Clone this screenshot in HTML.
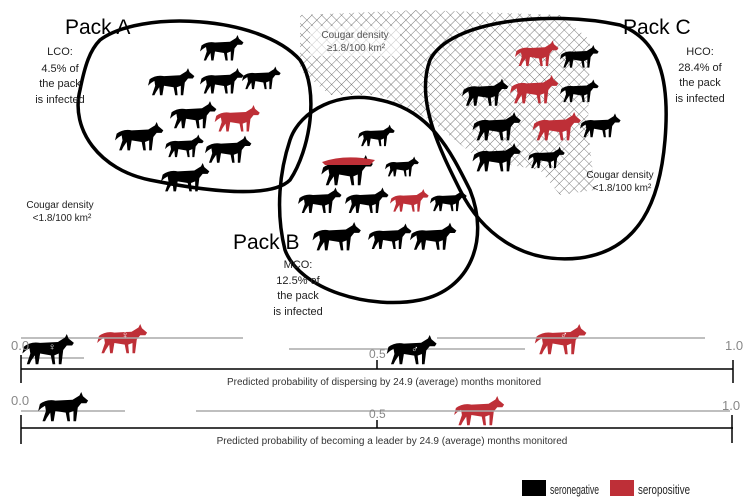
<!DOCTYPE html>
<html><head><meta charset="utf-8"><style>
html,body{margin:0;padding:0;background:#fff}
svg{display:block;font-family:"Liberation Sans",sans-serif}
</style></head><body>
<svg width="754" height="503" viewBox="0 0 754 503" xmlns="http://www.w3.org/2000/svg">
<defs>
<pattern id="h" width="7" height="7" patternUnits="userSpaceOnUse" patternTransform="rotate(45)">
<path d="M0,0H7M0,0V7" stroke="#555" stroke-width="0.8"/>
</pattern>
<symbol id="w" viewBox="0 0 60 36">
<path d="M2,14 Q10,8 20,10 L40,9 L48,4 L50,0 L52,5 L58,10 L56,13 L50,13 L46,18 L44,34 L41,34 L41,22 L36,24 L37,34 L34,34 L32,24 L20,22 L18,34 L15,34 L14,24 L10,30 L8,34 L5,34 L9,22 L8,16 Q4,18 0,22 Z"/>
</symbol>
</defs>
<path d="M300,15 L420,10 L560,15 L590,40 L588,130 L595,190 L560,195 L540,170 L480,160 L430,120 L380,95 L330,95 L300,70 Z" fill="url(#h)"/>
<rect x="310" y="26" width="90" height="30" fill="#fff" opacity="0.6"/>
<g fill="none" stroke="#000" stroke-width="3.5">
<path d="M100,40 C140,10 260,15 300,60 C320,90 310,150 290,180 C270,200 200,190 150,180 C100,170 70,130 80,90 C85,65 90,50 100,40Z"/>
<path d="M290,140 C300,110 340,90 380,100 C430,110 450,150 470,190 C490,240 470,290 420,300 C370,310 300,290 285,250 C275,210 280,170 290,140Z"/>
<path d="M430,60 C450,20 550,10 620,25 C660,40 670,80 665,140 C660,200 640,250 580,258 C520,265 480,230 460,190 C440,150 415,100 430,60Z"/>
</g>
<g fill="#000">
<use href="#w" x="200" y="35" width="45" height="27"/>
<use href="#w" x="148" y="68" width="48" height="29"/>
<use href="#w" x="200" y="68" width="45" height="27"/>
<use href="#w" x="242" y="65" width="40" height="27"/>
<use href="#w" x="170" y="101" width="48" height="29"/>
<use href="#w" x="115" y="122" width="50" height="30"/>
<use href="#w" x="165" y="132" width="40" height="29"/>
<use href="#w" x="205" y="135" width="48" height="30"/>
<use href="#w" x="158" y="163" width="56" height="30"/>
<use href="#w" x="358" y="122" width="38" height="28"/>
<use href="#w" x="318" y="155" width="60" height="32"/>
<use href="#w" x="385" y="152" width="35" height="30"/>
<use href="#w" x="298" y="185" width="45" height="32"/>
<use href="#w" x="345" y="185" width="45" height="32"/>
<use href="#w" x="430" y="185" width="38" height="32"/>
<use href="#w" x="310" y="222" width="55" height="30"/>
<use href="#w" x="368" y="222" width="45" height="30"/>
<use href="#w" x="410" y="222" width="48" height="30"/>
<use href="#w" x="560" y="42" width="40" height="30"/>
<use href="#w" x="462" y="77" width="48" height="32"/>
<use href="#w" x="560" y="75" width="40" height="33"/>
<use href="#w" x="470" y="112" width="55" height="30"/>
<use href="#w" x="580" y="110" width="42" height="32"/>
<use href="#w" x="470" y="143" width="55" height="30"/>
<use href="#w" x="528" y="143" width="38" height="30"/>
</g>
<g fill="#be2f37">
<use href="#w" x="213" y="105" width="50" height="28"/>
<use href="#w" x="390" y="183" width="40" height="36"/>
<use href="#w" x="515" y="38" width="45" height="32"/>
<use href="#w" x="510" y="72" width="50" height="36"/>
<use href="#w" x="530" y="112" width="55" height="30"/>
<use href="#w" x="95" y="324" width="56" height="31"/>
<use href="#w" x="533" y="324" width="57" height="32"/>
<use href="#w" x="452" y="396" width="56" height="31"/>
</g>
<path d="M322,162 Q345,154 375,160 L370,165 L325,165Z" fill="#be2f37"/>
<g stroke="#aaa" stroke-width="1.5">
<line x1="21" y1="338" x2="243" y2="338"/>
<line x1="437" y1="338" x2="705" y2="338"/>
<line x1="289" y1="349" x2="525" y2="349"/>
<line x1="21" y1="358" x2="84" y2="358"/>
<line x1="21" y1="411" x2="125" y2="411"/>
<line x1="196" y1="411" x2="730" y2="411"/>
</g>
<g fill="#000">
<use href="#w" x="21" y="334" width="56" height="32"/>
<use href="#w" x="385" y="335" width="55" height="31"/>
<use href="#w" x="36" y="392" width="56" height="31"/>
</g>
<g fill="#fff" font-size="10" font-weight="bold" text-anchor="middle">
<text x="52" y="350">♀</text><text x="125" y="338">♀</text>
<text x="415" y="352">♂</text><text x="564" y="338">♂</text>
</g>
<g stroke="#000" stroke-width="1.5">
<line x1="21" y1="369" x2="733" y2="369"/>
<line x1="21" y1="355" x2="21" y2="383"/><line x1="733" y1="360" x2="733" y2="383"/>
<line x1="377" y1="360" x2="377" y2="369"/>
<line x1="21" y1="428" x2="733" y2="428"/>
<line x1="21" y1="415" x2="21" y2="444"/><line x1="732" y1="415" x2="732" y2="443"/>
<line x1="377" y1="420" x2="377" y2="428"/>
</g>
<g fill="#888" font-size="13">
<text x="11" y="350">0.0</text><text x="369" y="358" font-size="12">0.5</text><text x="725" y="350">1.0</text>
<text x="11" y="405">0.0</text><text x="369" y="418" font-size="12">0.5</text><text x="722" y="410">1.0</text>
</g>
<g font-size="10" fill="#333" text-anchor="middle">
<text x="384" y="385">Predicted probability of dispersing by 24.9 (average) months monitored</text>
<text x="392" y="444">Predicted probability of becoming a leader by 24.9 (average) months monitored</text>
</g>
<g font-size="21" fill="#000">
<text x="65" y="34">Pack A</text><text x="233" y="249">Pack B</text><text x="623" y="34">Pack C</text>
</g>
<g font-size="11" fill="#222" text-anchor="middle">
<text x="60" y="55">LCO:</text><text x="60" y="72">4.5% of</text><text x="60" y="87">the pack</text><text x="60" y="103">is infected</text>
<text x="298" y="268">MCO:</text><text x="298" y="284">12.5% of</text><text x="298" y="299">the pack</text><text x="298" y="315">is infected</text>
<text x="700" y="55">HCO:</text><text x="700" y="71">28.4% of</text><text x="700" y="86">the pack</text><text x="700" y="102">is infected</text>
<text x="60" y="208" font-size="10">Cougar density</text><text x="62" y="221" font-size="10">&lt;1.8/100 km²</text>
<text x="620" y="178" font-size="10">Cougar density</text><text x="622" y="191" font-size="10">&lt;1.8/100 km²</text>
<text x="355" y="38" font-size="10" fill="#555">Cougar density</text><text x="356" y="51" font-size="10" fill="#555">≥1.8/100 km²</text>
</g>
<rect x="522" y="480" width="24" height="16" fill="#000"/>
<rect x="610" y="480" width="24" height="16" fill="#be2f37"/>
<g font-size="13" fill="#222"><text x="550" y="494" textLength="49" lengthAdjust="spacingAndGlyphs">seronegative</text><text x="638" y="494" textLength="52" lengthAdjust="spacingAndGlyphs">seropositive</text></g>
</svg>
</body></html>
